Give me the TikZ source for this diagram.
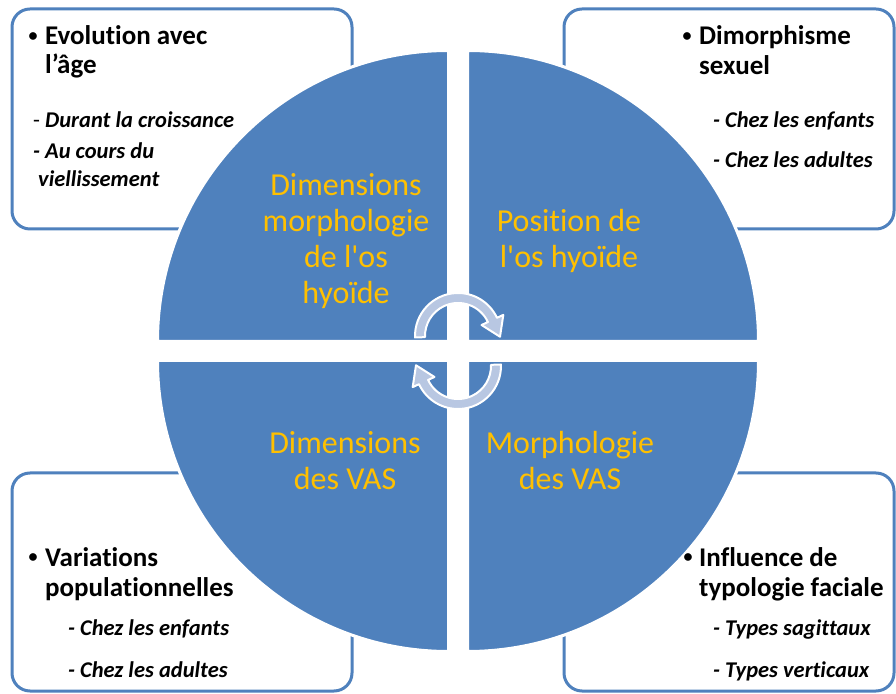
\documentclass[tikz,border=0pt]{standalone}
\usepackage{fontspec}
\setmainfont{Carlito}[Ligatures={TeX,NoCommon}]
\newfontfamily\qfont{Carlito}[Ligatures=NoCommon]
\definecolor{quadblue}{RGB}{79,129,189}
\definecolor{gold}{RGB}{255,192,0}
\definecolor{arrowfill}{RGB}{184,199,226}
\tikzset{
 box/.style={draw=quadblue, line width=3pt, fill=white, rounded corners=18pt},
 quad/.style={fill=quadblue, draw=white, line width=3pt},
 qtext/.style={text=gold, font=\qfont\fontsize{32}{36}\selectfont, align=center, inner sep=0pt},
 headtxt/.style={font=\fontsize{27}{30}\selectfont\bfseries, anchor=base west, inner sep=0pt},
 subtxt/.style={font=\fontsize{22.5}{26}\selectfont\bfseries\itshape, anchor=base west, inner sep=0pt},
 bul/.style={font=\fontsize{18}{20}\selectfont\bfseries, anchor=center, inner sep=0pt},
 circarrow/.style={fill=arrowfill, draw=white, line width=2pt, line join=round}
}
\begin{document}
\begin{tikzpicture}[x=1pt,y=1pt]
\useasboundingbox (0,0) rectangle (896,693);
\fill[white] (0,0) rectangle (896,693);
% boxes
\draw[box] (12,464) rectangle (352,684);
\draw[box] (564,464) rectangle (894,684);
\draw[box] (12,2) rectangle (352,220);
\draw[box] (564,2) rectangle (894,220);
% quadrants
\filldraw[quad] (448.5,351.5) -- ++(-291,0) arc (180:90:291) -- cycle;
\filldraw[quad] (467.5,351.5) -- ++(0,291) arc (90:0:291) -- cycle;
\filldraw[quad] (448.5,332.5) -- ++(-291,0) arc (180:270:291) -- cycle;
\filldraw[quad] (467.5,332.5) -- ++(0,-291) arc (270:360:291) -- cycle;
% quadrant texts
\node[qtext] (q1) at (346,452) {Dimensions\\morphologie\\de l'os\\hyoïde};
\node[qtext] (q2) at (569,452) {Position de\\l'os hyoïde};
\node[qtext] (q3) at (345,232) {Dimensions\\des VAS};
\node[qtext] (q4) at (570,232) {Morphologie\\des VAS};
% circular arrows
\begin{scope}[shift={(458,357)}]
\filldraw[circarrow] (182:43) arc (182:25:43) -- (25:50) -- (-1:42) -- (25:26) -- (25:33) arc (25:182:33) -- cycle;
\end{scope}
\begin{scope}[shift={(458,327)}, rotate=180]
\filldraw[circarrow] (182:43) arc (182:25:43) -- (25:50) -- (-1:42) -- (25:26) -- (25:33) arc (25:182:33) -- cycle;
\end{scope}
% box texts: top left
\node[bul] (b1) at (33,655.5) {•};
\node[headtxt] (t1a) at (45,648) {Evolution avec};
\node[headtxt] (t1b) at (45,619) {l’âge};
\node[subtxt] (t1c) at (33,565) {{\upshape\mdseries -} Durant la croissance};
\node[subtxt] (t1d) at (33,534) {- Au cours du};
\node[subtxt] (t1e) at (38,506) {viellissement};
% top right
\node[bul] (b2) at (687,656) {•};
\node[headtxt] (t2a) at (699,648) {Dimorphisme};
\node[headtxt] (t2b) at (699,618) {sexuel};
\node[subtxt] (t2c) at (713,565) {- Chez les enfants};
\node[subtxt] (t2d) at (713,525) {- Chez les adultes};
% bottom left
\node[bul] (b3) at (33,135) {•};
\node[headtxt] (t3a) at (45,126) {Variations};
\node[headtxt] (t3b) at (45,96) {populationnelles};
\node[subtxt] (t3c) at (68,57) {- Chez les enfants};
\node[subtxt] (t3d) at (68,16) {- Chez les adultes};
% bottom right
\node[bul] (b4) at (688,135) {•};
\node[headtxt] (t4a) at (699,126) {Influence de};
\node[headtxt] (t4b) at (699,96) {typologie faciale};
\node[subtxt] (t4c) at (713,57) {- Types sagittaux};
\node[subtxt] (t4d) at (713,16) {- Types verticaux};
\end{tikzpicture}
\end{document}
